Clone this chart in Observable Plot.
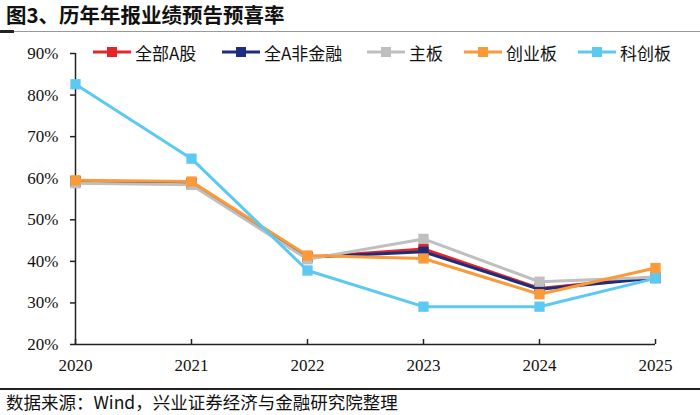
<!DOCTYPE html>
<html><head><meta charset="utf-8">
<script src="https://cdn.jsdelivr.net/npm/d3@7"></script>
<script src="https://cdn.jsdelivr.net/npm/@observablehq/plot@0.6"></script>
<style>
body{margin:0;width:700px;height:415px;background:#fff;position:relative;overflow:hidden;font-family:"Noto Sans CJK SC",sans-serif;color:#111;}
#title{position:absolute;left:6px;top:0px;font-size:20.5px;font-weight:bold;line-height:28px;white-space:nowrap;}
#tline{position:absolute;left:0;top:31px;width:700px;height:1px;background:#999;}
#tline2{position:absolute;left:0;top:30px;width:14px;height:3px;background:#222;}
#chart{position:absolute;left:0;top:35px;}
#legend{position:absolute;left:0;top:41px;width:700px;height:22px;}
.item{position:absolute;top:0;height:22px;display:flex;align-items:center;font-size:17px;white-space:nowrap;}
.item svg{margin-right:4px;}
#bline{position:absolute;left:0;top:388px;width:700px;height:2px;background:#222;}
#caption{position:absolute;left:6px;top:390px;font-size:17.5px;line-height:23px;white-space:nowrap;}
#chart svg text{font-family:"Liberation Serif","DejaVu Serif",serif !important;}
</style>
</head><body>
<div id="title">图3、历年年报业绩预告预喜率</div>
<div id="tline"></div><div id="tline2"></div>
<div id="chart"></div>
<div id="legend"></div>
<div id="bline"></div>
<div id="caption">数据来源：Wind，兴业证券经济与金融研究院整理</div>
<script>
const years = [2020, 2021, 2022, 2023, 2024, 2025];
const seriesNames = ["全部A股", "全A非金融", "主板", "创业板", "科创板"];
const allA      = [0.592, 0.588, 0.410, 0.430, 0.335, 0.363];
const allANonFin = [0.592, 0.588, 0.410, 0.423, 0.333, 0.360];
const mainBoard = [0.588, 0.584, 0.405, 0.454, 0.351, 0.362];
const chiNext   = [0.595, 0.592, 0.414, 0.407, 0.321, 0.384];
const star      = [0.826, 0.647, 0.378, 0.291, 0.291, 0.359];
const yTicks = [0.2, 0.3, 0.4, 0.5, 0.6, 0.7, 0.8, 0.9];
const colors = ["#e3262b", "#1b2d7c", "#bfbfbf", "#fb9a37", "#5cc9f2"];
const legendLeft = [93, 222, 367, 464, 578];

const seriesValues = [allA, allANonFin, mainBoard, chiNext, star];
const data = seriesNames.map((s, k) => years.map((y, i) => ({series: s, year: y, value: seriesValues[k][i]})));
const serif = "Liberation Serif";

const plot = Plot.plot({
  width: 700, height: 340,
  marginTop: 18, marginBottom: 31, marginLeft: 75, marginRight: 45,
  x: {domain: [2020, 2025], axis: null},
  y: {domain: [0.2, 0.9], axis: null},
  style: {fontFamily: "Liberation Serif, serif", fontSize: "17px", color: "#111", background: "transparent"},
  marks: [
    Plot.ruleX([2020], {stroke: "#222", strokeWidth: 1.5}),
    Plot.ruleY([0.2], {stroke: "#222", strokeWidth: 1.5}),
    Plot.axisY({ticks: yTicks, label: null, tickFormat: d3.format(".0%"), tickSize: 5, tickPadding: 12, stroke: "#222", strokeWidth: 1.5, fontFamily: serif, fill: "#111"}),
    Plot.axisX({ticks: years, label: null, tickSize: 5, dy: -5, tickFormat: () => "", stroke: "#222", strokeWidth: 1.5}),
    Plot.axisX({ticks: years, label: null, tickSize: 0, tickPadding: 14, tickFormat: d => String(d), fontFamily: serif, fill: "#111"}),
    ...data.flatMap((d, k) => [
      Plot.line(d, {x: "year", y: "value", stroke: colors[k], strokeWidth: 3}),
      Plot.dot(d, {x: "year", y: "value", symbol: "square", r: 5.8, fill: colors[k], stroke: "none"})
    ])
  ]
});
document.getElementById("chart").appendChild(plot);

const legend = document.getElementById("legend");
seriesNames.forEach((s, k) => {
  const div = document.createElement("div");
  div.className = "item";
  div.style.left = legendLeft[k] + "px";
  div.innerHTML = `<svg width="38" height="12"><line x1="0" y1="6" x2="38" y2="6" stroke="${colors[k]}" stroke-width="3"/><rect x="14" y="1" width="10" height="10" fill="${colors[k]}"/></svg><span>${s}</span>`;
  legend.appendChild(div);
});
</script>
</body></html>
